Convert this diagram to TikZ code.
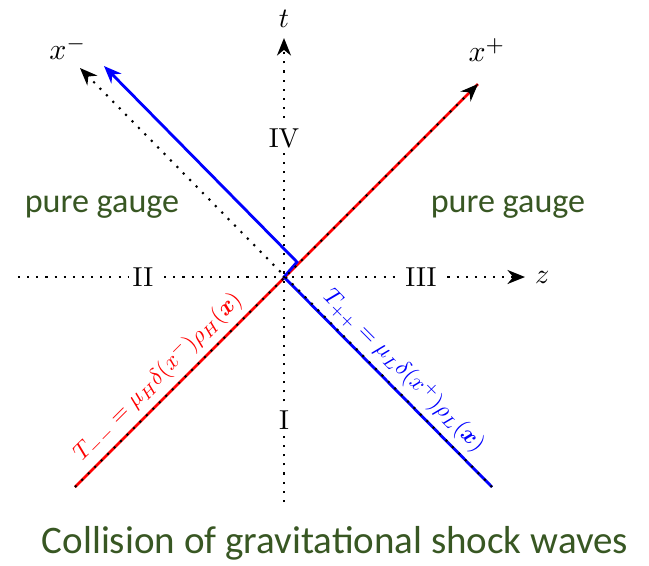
\documentclass[tikz,border=0pt]{standalone}
\usepackage{fontspec}
\usepackage{amsmath}
\usepackage{bm}
\newfontfamily\slidefont{Carlito}
\usetikzlibrary{arrows.meta}
\definecolor{slidegreen}{RGB}{56,87,35}
\tikzset{
    axis/.style={dotted,line width=0.6pt},
    wave/.style={line width=0.8pt},
    wavelabel/.style={sloped,above=0.5pt,inner sep=2pt,scale=0.66},
    region/.style={fill=white,inner sep=1.5pt,scale=0.78},
    gauge/.style={slidegreen,font=\slidefont\fontsize{9.7}{11}\selectfont},
}
\begin{document}
\begin{tikzpicture}[>={Stealth[length=5pt,width=4pt]}]
    \useasboundingbox (-2.84,-2.88) rectangle (3.65,2.77);
    \coordinate (o) at (0,0);
    \coordinate (zl) at (-2.66,0);
    \coordinate (zr) at (2.41,0);
    \coordinate (tb) at (0,-2.25);
    \coordinate (tt) at (0,2.39);
    \coordinate (pb) at (-2.09,-2.10);
    \coordinate (pt) at (1.94,1.93);
    \coordinate (mb) at (2.08,-2.10);
    \coordinate (mt) at (-2.04,2.09);
    \coordinate (kink) at (0.13,0.15);
    \coordinate (bt) at (-1.80,2.11);
    % shock waves
    \draw[red,wave] (pb) -- node[pos=0.24,wavelabel] {$T_{--}=\mu_H\delta(x^-)\rho_H(\bm{x})$} (pt);
    \draw[blue,wave,->] (mb) -- node[pos=0.49,wavelabel] {$T_{++}=\mu_L\delta(x^+)\rho_L(\bm{x})$} (o) -- (kink) -- (bt);
    % axes
    \draw[axis,->] (zl) -- (zr) node[right,scale=0.8] (zlab) {$z$};
    \draw[axis,->] (tb) -- (tt) node[above,scale=0.8] (tlab) {$t$};
    \draw[axis,->] (pb) -- (pt);
    \draw[axis,->] (mb) -- (mt);
    \node[scale=0.85] (xplab) at (2.03,2.27) {$x^+$};
    \node[scale=0.85] (xmlab) at (-2.16,2.29) {$x^-$};
    % regions
    \node[region] (r1) at (0,-1.43) {I};
    \node[region] (r2) at (-1.41,0) {II};
    \node[region] (r3) at (1.37,0) {III};
    \node[region] (r4) at (0,1.39) {IV};
    \node[gauge] (gl) at (-1.82,0.70) {pure gauge};
    \node[gauge] (gr) at (2.24,0.70) {pure gauge};
    \node[gauge,font=\slidefont\fontsize{11.1}{13}\selectfont] (title) at (0.51,-2.66) {Collision of gravitational shock waves};
\end{tikzpicture}
\end{document}
